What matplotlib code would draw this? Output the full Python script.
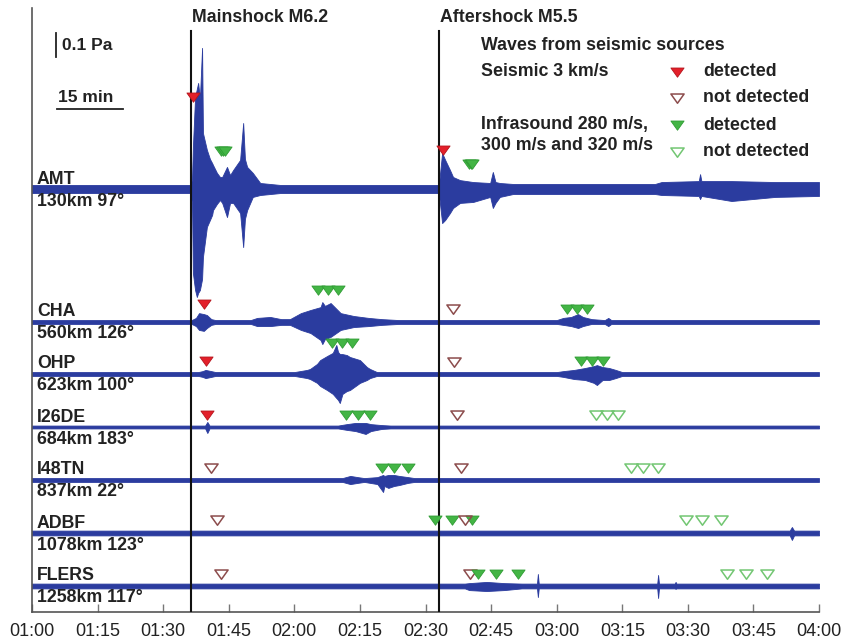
import numpy as np
import matplotlib.pyplot as plt
from matplotlib.path import Path

plt.rcParams["font.family"] = ["Liberation Sans", "DejaVu Sans"]

# ===== Data =====
# time axis: minutes after 01:00, amplitudes in mPa (envelope of the pressure traces)
mainshock_t = 36.4
aftershock_t = 93.1

station_names = ["AMT", "CHA", "OHP", "I26DE", "I48TN", "ADBF", "FLERS"]
station_info = ["130km 97°", "560km 126°", "623km 100°", "684km 183°",
                "837km 22°", "1078km 123°", "1258km 117°"]

amt_t = [0, 36.3, 36.6, 36.8, 37.3, 37.7, 38.0, 38.4, 38.9, 39.1,
         40.0, 40.7, 41.2, 41.4, 42.3, 43.0, 43.5, 44.6, 45.3, 46.0,
         47.6, 48.3, 48.7, 49.2, 50.5, 52.2, 56.7, 92.9, 93.2, 93.8,
         94.5, 95.6, 96.3, 97.9, 100.9, 104.8, 105.4, 106.0, 107.0, 110.0,
         142.5, 144.0, 152.5, 152.8, 153.1, 160.0, 170.0, 180.0]
amt_up = [17, 17, 42, 175, 383, 417, 442, 375, 588, 233,
          163, 125, 108, 100, 67, 50, 50, 92, 58, 79,
          121, 275, 125, 92, 67, 25, 17, 17, 42, 150,
          121, 79, 50, 37, 29, 25, 71, 29, 25, 21,
          21, 29, 33, 62, 33, 33, 29, 29]
amt_dn = [17, 17, 62, 350, 421, 450, 433, 421, 375, 283,
          158, 129, 108, 88, 62, 46, 58, 117, 58, 58,
          100, 242, 125, 88, 33, 25, 17, 17, 42, 142,
          129, 100, 79, 58, 54, 33, 79, 58, 33, 21,
          21, 25, 29, 42, 29, 50, 33, 29]

cha_t = [0, 36.5, 37.5, 38.2, 39.3, 40.0, 41.0, 42.0, 50.0, 51.5,
         54.5, 57.0, 59.0, 61.5, 63.7, 66.0, 66.4, 67.0, 68.3, 70.6,
         73.6, 77.0, 80.0, 84.0, 120.0, 121.5, 123.3, 124.9, 126.0, 128.0,
         131.0, 131.8, 132.5, 180.0]
cha_up = [8, 8, 17, 37, 33, 29, 12, 8, 8, 17,
          21, 12, 12, 37, 50, 62, 83, 67, 79, 37,
          25, 17, 12, 8, 8, 17, 21, 33, 21, 12,
          8, 17, 8, 8]
cha_dn = [8, 8, 17, 33, 37, 25, 12, 8, 8, 17,
          17, 12, 12, 33, 46, 75, 92, 71, 62, 33,
          21, 17, 12, 8, 8, 12, 17, 25, 17, 8,
          8, 17, 8, 8]

ohp_t = [0, 38.0, 39.0, 39.7, 41.0, 42.0, 60.0, 62.9, 63.6, 65.2,
         65.9, 67.5, 68.8, 69.6, 70.0, 70.4, 71.0, 72.0, 72.7, 75.0,
         76.6, 77.3, 78.9, 120.0, 121.5, 124.0, 126.5, 128.5, 129.2, 130.5,
         132.0, 133.5, 135.0, 180.0]
ohp_up = [8, 8, 12, 17, 12, 8, 8, 17, 21, 42,
          58, 75, 88, 121, 92, 83, 83, 79, 71, 58,
          29, 21, 8, 8, 12, 17, 25, 33, 37, 29,
          25, 17, 8, 8]
ohp_dn = [8, 8, 12, 17, 12, 8, 8, 17, 21, 37,
          50, 67, 83, 100, 108, 121, 83, 71, 67, 37,
          25, 17, 8, 8, 12, 21, 25, 37, 46, 25,
          25, 17, 8, 8]

i26_t = [0, 39.6, 40.1, 40.6, 70.0, 72.0, 74.0, 76.3, 77.5, 80.0, 82.0, 180.0]
i26_up = [6, 6, 21, 6, 6, 12, 17, 17, 12, 8, 6, 6]
i26_dn = [6, 6, 25, 6, 6, 12, 17, 29, 17, 8, 6, 6]

i48_t = [0, 71.0, 72.8, 74.5, 76.0, 79.0, 80.3, 80.6, 81.5, 82.8, 84.0, 86.0, 87.5, 180.0]
i48_up = [8, 8, 17, 12, 8, 12, 21, 17, 21, 21, 17, 12, 8, 8]
i48_dn = [8, 8, 17, 12, 8, 17, 50, 25, 33, 25, 21, 12, 8, 8]

adbf_t = [0, 173.3, 173.8, 174.3, 180.0]
adbf_up = [10, 10, 25, 10, 10]
adbf_dn = [10, 10, 29, 10, 10]

fl_t = [0, 99.0, 100.0, 104.0, 108.0, 112.0, 115.5, 115.7, 115.9,
        143.0, 143.2, 143.4, 147.0, 147.2, 147.4, 180.0]
fl_up = [10, 10, 12, 17, 12, 10, 10, 50, 10, 10, 46, 10, 10, 17, 10, 10]
fl_dn = [10, 10, 17, 21, 17, 10, 10, 46, 10, 10, 50, 10, 10, 12, 10, 10]

# predicted arrivals (minutes after 01:00)
amt_seis_det = [36.9, 93.9]
amt_infra_det_main = [43.2, 43.6, 44.1]
amt_infra_det_after = [100.0, 100.3, 100.7]
cha_seis_det = [39.3]
cha_seis_nd = [96.4]
cha_infra_det_main = [65.4, 67.7, 70.0]
cha_infra_det_after = [122.4, 124.6, 126.9]
ohp_seis_det = [39.7]
ohp_seis_nd = [96.6]
ohp_infra_det_main = [68.6, 70.9, 73.2]
ohp_infra_det_after = [125.6, 128.1, 130.6]
i26_seis_det = [40.1]
i26_seis_nd = [97.1]
i26_infra_det = [71.8, 74.6, 77.3]
i26_infra_nd = [129.0, 131.5, 134.0]
i48_seis_nd = [40.9, 98.1]
i48_infra_det = [80.0, 82.8, 86.1]
i48_infra_nd = [136.9, 139.8, 143.2]
adbf_seis_nd = [42.2, 99.0]
adbf_infra_det = [92.2, 96.1, 100.7]
adbf_infra_nd = [149.5, 153.3, 157.5]
fl_seis_nd = [43.2, 100.2]
fl_infra_det = [102.1, 106.1, 111.2]
fl_infra_nd = [158.9, 163.2, 168.2]

tick_labels = ["01:00", "01:15", "01:30", "01:45", "02:00", "02:15", "02:30",
               "02:45", "03:00", "03:15", "03:30", "03:45", "04:00"]

# ===== Layout =====
baselines = [423, 290, 238, 185, 132, 79, 26]  # vertical trace offsets
k = 0.24  # plot units per mPa (0.1 Pa bar = 24 units)
trace_color = "#2b3c9f"
txt = "#222222"
FS = 12.8

tri = Path([(-1, 0.68), (1, 0.68), (0, -0.72), (-1, 0.68)],
           [Path.MOVETO, Path.LINETO, Path.LINETO, Path.CLOSEPOLY])
styles = {
    "sd": dict(marker=tri, color="#e3202a", mec="#b5141c", mew=0.6),
    "sn": dict(marker=tri, mfc="none", mec="#8c4c4c", mew=1.1),
    "id": dict(marker=tri, color="#43b545", mec="#2f9c34", mew=0.6),
    "in": dict(marker=tri, mfc="none", mec="#72c672", mew=1.1),
}
MS = 9.5

fig = plt.figure(figsize=(8.41, 6.43), dpi=100)
ax = fig.add_axes([32 / 841, 31 / 643, 787 / 841, 604 / 643])
ax.set_xlim(0, 180)
ax.set_ylim(0, 604)


def trace(t, up, dn, base):
    t = np.array(t)
    ax.fill_between(t, base + k * np.array(up), base - k * np.array(dn),
                    color=trace_color, lw=0.6, zorder=2)


def marks(times, base, h, kind):
    ax.plot(times, [base + h] * len(times), ls="none", ms=MS, zorder=4,
            **styles[kind])


b = baselines
trace(amt_t, amt_up, amt_dn, b[0])
trace(cha_t, cha_up, cha_dn, b[1])
trace(ohp_t, ohp_up, ohp_dn, b[2])
trace(i26_t, i26_up, i26_dn, b[3])
trace(i48_t, i48_up, i48_dn, b[4])
trace(adbf_t, adbf_up, adbf_dn, b[5])
trace(fl_t, fl_up, fl_dn, b[6])

# event lines
for t0 in (mainshock_t, aftershock_t):
    ax.plot([t0, t0], [0, 581], color="#111111", lw=1.5, zorder=3)
ax.text(mainshock_t + 0.2, 594, "Mainshock M6.2", fontsize=FS,
        fontweight="bold", va="center", color=txt)
ax.text(aftershock_t + 0.2, 594, "Aftershock M5.5", fontsize=FS,
        fontweight="bold", va="center", color=txt)

# markers
marks(amt_seis_det[:1], b[0], 92, "sd")
marks(amt_seis_det[1:], b[0], 39, "sd")
marks(amt_infra_det_main, b[0], 38, "id")
marks(amt_infra_det_after, b[0], 25, "id")

marks(cha_seis_det, b[1], 18, "sd")
marks(cha_seis_nd, b[1], 13, "sn")
marks(cha_infra_det_main, b[1], 32, "id")
marks(cha_infra_det_after, b[1], 13, "id")

marks(ohp_seis_det, b[2], 13, "sd")
marks(ohp_seis_nd, b[2], 12, "sn")
marks(ohp_infra_det_main, b[2], 31, "id")
marks(ohp_infra_det_after, b[2], 13, "id")

marks(i26_seis_det, b[3], 12, "sd")
marks(i26_seis_nd, b[3], 12, "sn")
marks(i26_infra_det, b[3], 12, "id")
marks(i26_infra_nd, b[3], 12, "in")

marks(i48_seis_nd, b[4], 12, "sn")
marks(i48_infra_det, b[4], 12, "id")
marks(i48_infra_nd, b[4], 12, "in")

marks(adbf_infra_det, b[5], 13, "id")
marks(adbf_seis_nd, b[5], 13, "sn")
marks(adbf_infra_nd, b[5], 13, "in")

marks(fl_seis_nd, b[6], 12, "sn")
marks(fl_infra_det, b[6], 12, "id")
marks(fl_infra_nd, b[6], 12, "in")

# station labels
for name, info, base in zip(station_names, station_info, baselines):
    ax.text(1.1, base + 10, name, fontsize=FS, fontweight="bold",
            va="center", color=txt, zorder=5)
    ax.text(1.1, base - 12, info, fontsize=FS, fontweight="bold",
            va="center", color=txt, zorder=5)

# scale bars
ax.plot([5.5, 5.5], [555, 579], color=txt, lw=1.3)
ax.text(6.9, 567, "0.1 Pa", fontsize=12.5, fontweight="bold", va="center",
        color=txt)
ax.plot([5.7, 20.7], [503, 503], color=txt, lw=1.3)
ax.text(5.9, 514, "15 min", fontsize=12.5, fontweight="bold", va="center",
        color=txt)

# legend block
ax.text(102.7, 566, "Waves from seismic sources", fontsize=FS,
        fontweight="bold", va="center", color=txt)
ax.text(102.7, 540, "Seismic 3 km/s", fontsize=FS, fontweight="bold",
        va="center", color=txt)
ax.text(102.7, 487, "Infrasound 280 m/s,", fontsize=FS, fontweight="bold",
        va="center", color=txt)
ax.text(102.7, 467, "300 m/s and 320 m/s", fontsize=FS, fontweight="bold",
        va="center", color=txt)
for y, kind, lab in [(540, "sd", "detected"), (514, "sn", "not detected"),
                     (487, "id", "detected"), (460, "in", "not detected")]:
    ax.plot([147.5], [y], ls="none", ms=MS, **styles[kind])
    ax.text(153.5, y, lab, fontsize=FS, fontweight="bold", va="center",
            color=txt)

# axes styling
for s in ("top", "right"):
    ax.spines[s].set_visible(False)
for s in ("left", "bottom"):
    ax.spines[s].set_color("#555555")
    ax.spines[s].set_linewidth(1.2)
ax.set_yticks([])
ax.set_xticks(np.arange(0, 181, 15))
ax.set_xticklabels(tick_labels)
ax.tick_params(axis="x", direction="in", length=6, width=1, color="#777777",
               labelsize=13, labelcolor=txt, pad=8)

plt.savefig("out.png", dpi=100)
